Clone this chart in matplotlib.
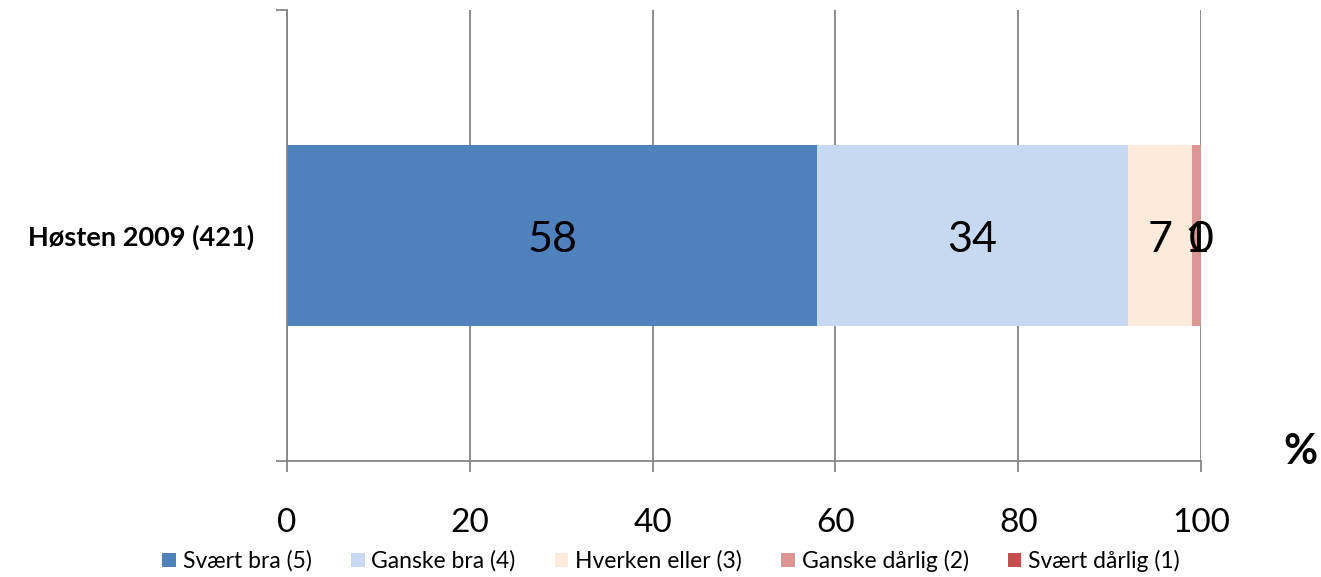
import matplotlib.pyplot as plt
import numpy as np

plt.rcParams['font.family'] = ['Lato', 'DejaVu Sans']

# Andeler (%) per svaralternativ
kategori = "Høsten 2009 (421)"
serier = ["Svært bra (5)", "Ganske bra (4)", "Hverken eller (3)",
          "Ganske dårlig (2)", "Svært dårlig (1)"]
verdier = [58, 34, 7, 1, 0]
farger = ["#4F81BD", "#C6D9F1", "#FDEADA", "#D99694", "#C0504D"]
xticks = [0, 20, 40, 60, 80, 100]

fig = plt.figure(figsize=(13.21, 5.77), dpi=100)
ax = fig.add_axes([287 / 1321, 1 - 461 / 577, (1201 - 287) / 1321, (461 - 10) / 577])

grå = "#868686"
ax.set_xlim(0, 100)
ax.set_ylim(0, 1)
ax.set_axisbelow(True)
ax.grid(axis='x', color=grå, linewidth=1.3)

venstre = 0
for navn, v, f in zip(serier, verdier, farger):
    ax.barh(0.5, v, left=venstre, height=0.4, color=f, label=navn)
    ax.text(venstre + v / 2, 0.49, f"{v}", ha='center', va='center',
            fontsize=31, color='black')
    venstre += v

for s in ['top', 'right']:
    ax.spines[s].set_visible(False)
for s in ['left', 'bottom']:
    ax.spines[s].set_color(grå)
    ax.spines[s].set_linewidth(1.3)

ax.set_xticks(xticks)
ax.set_xticklabels([str(t) for t in xticks], fontsize=24)
ax.tick_params(axis='x', length=8, width=1.3, color=grå, pad=26)
ax.set_yticks([0, 1])
ax.set_yticklabels([])
ax.tick_params(axis='y', length=8, width=1.3, color=grå)
ax.set_yticks([0.5], minor=True)
ax.set_yticklabels([kategori], minor=True, fontsize=19.5, fontweight='bold')
ax.tick_params(axis='y', which='minor', length=0, pad=24)

fig.text(1300 / 1321, 1 - 452 / 577, "%", ha='center', va='center',
         fontsize=30, fontweight='bold')

handles, labels = ax.get_legend_handles_labels()
fig.legend(handles, labels, loc='center', bbox_to_anchor=(0.508, 1 - 561 / 577),
           ncol=5, frameon=False, fontsize=16.5, handlelength=0.6, handleheight=0.6,
           handletextpad=0.3, columnspacing=1.7, borderpad=0)

fig.savefig("out.png", dpi=100)
